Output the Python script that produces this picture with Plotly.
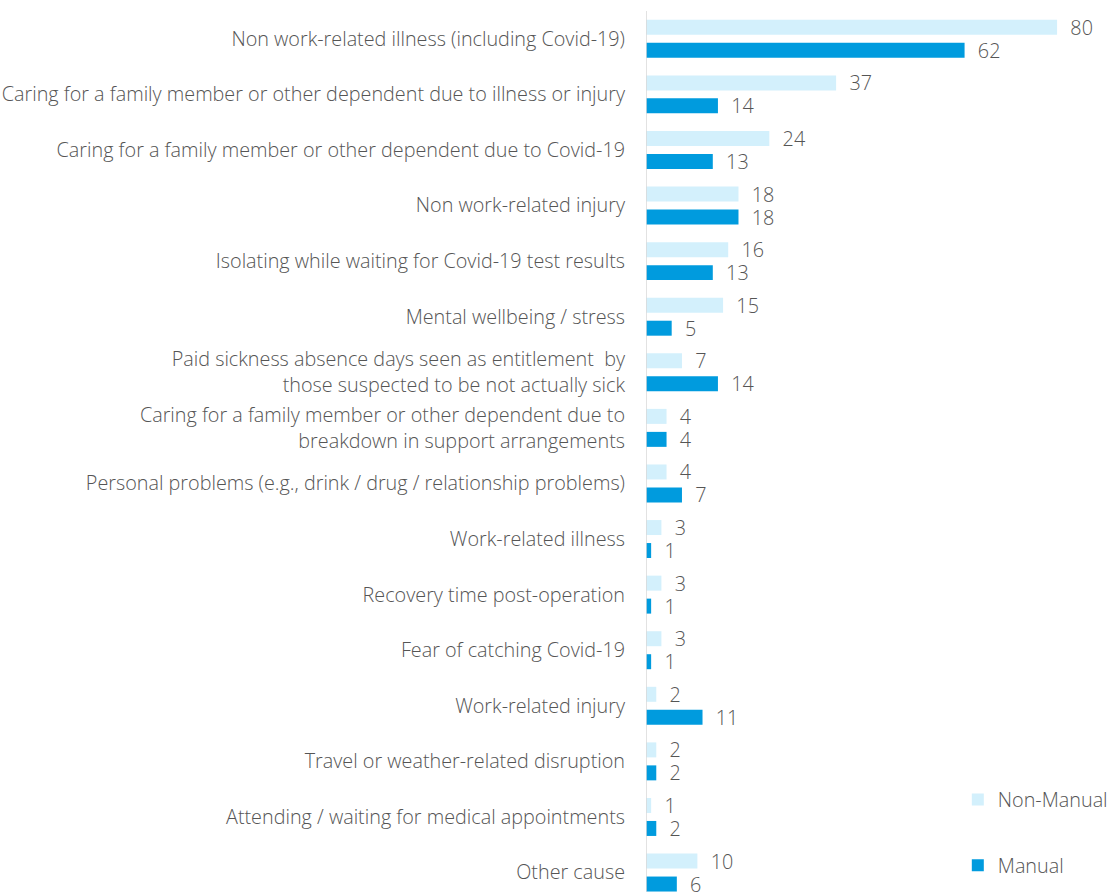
import plotly.graph_objects as go

# Reasons for absence, top to bottom
categories = [
    "Non work-related illness (including Covid-19)",
    "Caring for a family member or other dependent due to illness or injury",
    "Caring for a family member or other dependent due to Covid-19",
    "Non work-related injury",
    "Isolating while waiting for Covid-19 test results",
    "Mental wellbeing / stress",
    "Paid sickness absence days seen as entitlement  by<br>those suspected to be not actually sick",
    "Caring for a family member or other dependent due to<br>breakdown in support arrangements",
    "Personal problems (e.g., drink / drug / relationship problems)",
    "Work-related illness",
    "Recovery time post-operation",
    "Fear of catching Covid-19",
    "Work-related injury",
    "Travel or weather-related disruption",
    "Attending / waiting for medical appointments",
    "Other cause",
]
non_manual = [80, 37, 24, 18, 16, 15, 7, 4, 4, 3, 3, 3, 2, 2, 1, 10]
manual = [62, 14, 13, 18, 13, 5, 14, 4, 7, 1, 1, 1, 11, 2, 2, 6]

LIGHT = "#d3f0fc"
DARK = "#009bde"
TEXT = "#555555"
FONT = "Open Sans"
SIZE = 19.8
WEIGHT = 300

def bar(values, name, color, group):
    return go.Bar(
        y=categories, x=values, name=name, orientation="h",
        marker=dict(color=color, line=dict(width=0)),
        texttemplate="\u00a0\u00a0%{x}", textposition="outside",
        constraintext="none",
        textfont=dict(family=FONT, size=SIZE, color=TEXT, weight=WEIGHT),
        cliponaxis=False, legendgroup=group,
    )

fig = go.Figure()
fig.add_trace(bar(non_manual, "Non-Manual", LIGHT, "a"))
fig.add_trace(bar(manual, "Manual", DARK, "b"))

fig.update_layout(
    width=1110, height=892,
    margin=dict(l=646, r=0, t=11, b=0, autoexpand=False),
    paper_bgcolor="white", plot_bgcolor="white",
    barmode="group", bargap=0.173, bargroupgap=0.348,
    font=dict(family=FONT, size=SIZE, color=TEXT, weight=WEIGHT),
    showlegend=True,
    legend=dict(
        x=0.672, y=0.127, xanchor="left", yanchor="top",
        traceorder="grouped", tracegroupgap=37,
        font=dict(family=FONT, size=SIZE, color=TEXT, weight=WEIGHT),
        itemwidth=30, bgcolor="rgba(0,0,0,0)",
    ),
    xaxis=dict(range=[0, 90.3], visible=False),
    yaxis=dict(
        range=[15.35, -0.5], showgrid=False, zeroline=False,
        showline=False, ticks="", ticklabelstandoff=20,
        tickfont=dict(family=FONT, size=SIZE, color=TEXT, weight=WEIGHT),
    ),
    shapes=[dict(type="line", xref="x", yref="paper", x0=0, x1=0, y0=0, y1=1,
                 line=dict(color="#d9d9d9", width=1.5))],
)

fig.write_html("out.html")
